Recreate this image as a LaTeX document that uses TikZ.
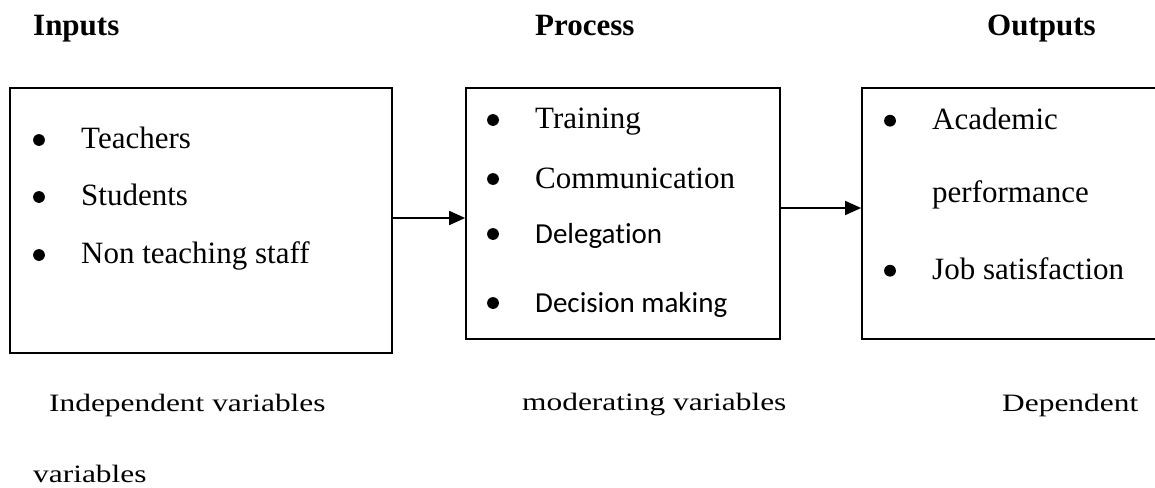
\documentclass[tikz,border=0pt]{standalone}
\usepackage{fontspec}
\usepackage{graphicx}
\setmainfont{Liberation Serif}
\newfontfamily\calib[Ligatures=NoCommon]{Carlito}
\usetikzlibrary{arrows.meta}

\tikzset{
  box/.style={draw, line width=1.7pt, inner sep=0pt},
  txt/.style={anchor=base west, inner sep=0pt, font=\fontsize{31}{37}\selectfont},
  ctxt/.style={anchor=base west, inner sep=0pt, font=\calib\fontsize{29}{35}\selectfont},
  head/.style={anchor=base west, inner sep=0pt, font=\bfseries\fontsize{31}{37}\selectfont},
  foot/.style={anchor=base west, inner sep=0pt, font=\fontsize{25}{30}\selectfont},
  arr/.style={line width=1.7pt, -{Triangle[length=16pt,width=14pt]}},
  dot/.style={fill=black}
}
\newcommand\wide[1]{\scalebox{1.256}[1]{#1}}

\begin{document}
\begin{tikzpicture}[x=1pt,y=-1pt]
\clip (0,0) rectangle (1155,487);

% column headings
\node[head] (hin)  at (33,36)  {Inputs};
\node[head] (hpr)  at (535,36) {Process};
\node[head] (hout) at (987,36) {Outputs};

% the three boxes
\node[box, minimum width=382pt, minimum height=265pt] (b1) at (201,220.5) {};
\node[box, minimum width=314pt, minimum height=251pt] (b2) at (623,213.5) {};
\node[box, minimum width=313pt, minimum height=251pt] (b3) at (1018.5,213.5) {};

% inputs
\fill[dot] (39,140) circle (5.9pt);
\fill[dot] (39,197) circle (5.9pt);
\fill[dot] (39,255) circle (5.9pt);
\node[txt] (i1) at (81,148) {Teachers};
\node[txt] (i2) at (81,205) {Students};
\node[txt] (i3) at (81,263) {Non teaching staff};

% process
\fill[dot] (493,120) circle (5.9pt);
\fill[dot] (493,179) circle (5.9pt);
\fill[dot] (493,234) circle (5.9pt);
\fill[dot] (493,303) circle (5.9pt);
\node[txt]  (p1) at (535,128) {Training};
\node[txt]  (p2) at (535,188) {Communication};
\node[ctxt] (p3) at (535,243) {Delegation};
\node[ctxt] (p4) at (535,312) {Decision making};

% outputs
\fill[dot] (890,120.7) circle (5.9pt);
\fill[dot] (890,270.7) circle (5.9pt);
\node[txt] (o1) at (932,129) {Academic};
\node[txt] (o2) at (932,202) {performance};
\node[txt] (o3) at (932,279) {Job satisfaction};

% connectors
\draw[arr] ([yshift=2.5pt]b1.east) -- ([yshift=-4.5pt]b2.west);
\draw[arr] ([yshift=5.5pt]b2.east) -- ([yshift=5.5pt]b3.west);

% captions
\node[foot] (c1) at (49,411)   {\wide{Independent variables}};
\node[foot] (c2) at (522,410)  {\wide{moderating variables}};
\node[foot] (c3) at (1002,411) {\wide{Dependent}};
\node[foot] (c4) at (33,482)   {\wide{variables}};
\end{tikzpicture}
\end{document}
